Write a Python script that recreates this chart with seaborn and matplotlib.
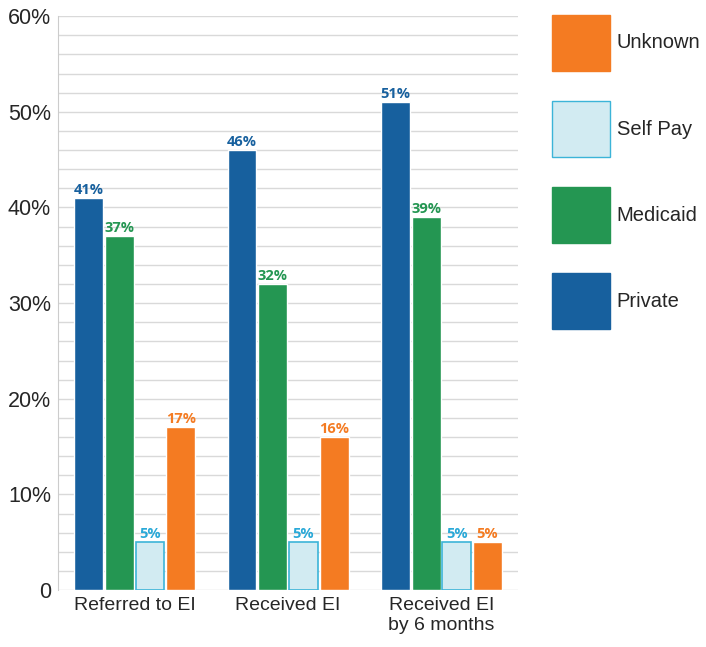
import pandas as pd
import seaborn as sns
import matplotlib.pyplot as plt
from matplotlib.patches import Patch
from matplotlib.ticker import MultipleLocator, FuncFormatter

# %% Dados
grupos = ["Referred to EI", "Received EI", "Received EI\nby 6 months"]
seguros = ["Private", "Medicaid", "Self Pay", "Unknown"]
private = [41, 46, 51]
medicaid = [37, 32, 39]
self_pay = [5, 5, 5]
unknown = [17, 16, 5]

cores = {"Private": "#17609E", "Medicaid": "#249652", "Self Pay": "#D2EBF2", "Unknown": "#F47B22"}
cores_texto = {"Private": "#17609E", "Medicaid": "#249652", "Self Pay": "#2AA9D8", "Unknown": "#F47B22"}

df = pd.DataFrame({"grupo": grupos * 4,
                   "seguro": sum([[s] * 3 for s in seguros], []),
                   "valor": private + medicaid + self_pay + unknown})

# %% Gráfico
sns.set_style("white")
plt.rcParams['font.family'] = ['Liberation Sans', 'DejaVu Sans']

fig = plt.figure(figsize=(7.06, 6.47), dpi=100)
ax = fig.add_axes([0.082, 0.088, 0.652, 0.887])

sns.barplot(data=df, x="grupo", y="valor", hue="seguro", hue_order=seguros,
            palette=cores, width=0.8, gap=0.06, saturation=1, legend=False, ax=ax)

for cont, s in zip(ax.containers, seguros):
    if s == "Self Pay":
        for b in cont:
            b.set_edgecolor("#3CB4D8")
            b.set_linewidth(1.2)
    ax.bar_label(cont, labels=[f"{int(v)}%" for v in cont.datavalues], padding=1,
                 color=cores_texto[s], fontsize=10.5, fontweight="bold", family="Open Sans")

ax.set_ylim(0, 60)
ax.set_xlim(-0.5, 2.5)
ax.yaxis.set_major_locator(MultipleLocator(10))
ax.yaxis.set_minor_locator(MultipleLocator(2))
ax.yaxis.set_major_formatter(FuncFormatter(lambda v, p: "0" if v == 0 else f"{int(v)}%"))
ax.grid(axis="y", which="both", color="#d9d9d9", linewidth=1)
ax.set_axisbelow(True)
ax.tick_params(axis="y", labelsize=15.5, length=0, pad=5)
ax.tick_params(axis="x", labelsize=14, length=0, pad=5)
ax.set_xlabel("")
ax.set_ylabel("")
for lado in ["top", "right", "bottom"]:
    ax.spines[lado].set_visible(False)
ax.spines["left"].set_color("#cccccc")

# legenda
handles = [Patch(facecolor=cores[s], edgecolor="#3CB4D8" if s == "Self Pay" else cores[s], label=s)
           for s in reversed(seguros)]
fig.legend(handles=handles, loc="upper left", bbox_to_anchor=(0.782, 0.977), frameon=False,
           borderpad=0, borderaxespad=0,
           fontsize=14.5, handlelength=2.9, handleheight=3.9, labelspacing=1.5, handletextpad=0.3)

plt.savefig("out.png", dpi=100)
